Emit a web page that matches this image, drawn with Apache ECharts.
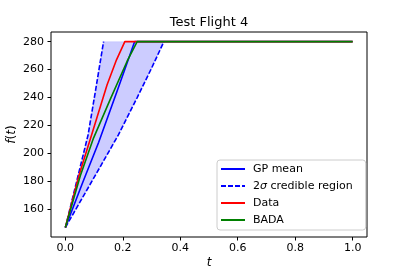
<!DOCTYPE html>
<html>
<head>
<meta charset="utf-8">
<script src="https://cdn.jsdelivr.net/npm/echarts@6/dist/echarts.min.js"></script>
<style>html,body{margin:0;padding:0;background:#fff;}#c{width:407px;height:271px;}</style>
</head>
<body>
<div id="c"></div>
<script>
// Data: [t, f(t)] pairs
const gpMean = [[0,147],[0.06,179],[0.116,208],[0.179,244],[0.241,280],[1.0,280]];
const bandUpper = [[0,147],[0.04,180.5],[0.079,213.2],[0.105,245],[0.133,280]];
const bandLower = [[0,147],[0.06,168.5],[0.12,190],[0.185,213.4],[0.25,240],[0.30,261],[0.343,280]];
const flightData = [[0,147],[0.047,184],[0.088,211],[0.145,249],[0.178,267],[0.207,280],[1.0,280]];
const bada = [[0,147],[0.052,184],[0.098,211],[0.157,239],[0.215,266],[0.25,280],[1.0,280]];
const xTicks = [0,0.2,0.4,0.6,0.8,1.0];
const yTicks = [160,180,200,220,240,260,280];
const seriesNames = ['GP mean','2σ credible region','Data','BADA'];

const FONT = 'DejaVu Sans';
const bandPolygon = bandUpper.concat(bandLower.slice().reverse());

const chart = echarts.init(document.getElementById('c'), null, {renderer:'canvas'});
chart.setOption({
  backgroundColor:'#fff',
  animation:false,
  title:{
    text:'Test Flight 4', left:209, top:16, textAlign:'center', padding:0,
    textStyle:{fontSize:13, fontWeight:'normal', color:'#000', fontFamily:FONT}
  },
  grid:{left:51, right:40, top:32, bottom:34, outerBoundsMode:'none', containLabel:false,
    show:true, borderColor:'#000', borderWidth:1, backgroundColor:'transparent'},
  legend:{
    orient:'vertical', left:217, top:160,
    padding:[2,13,3,3], itemGap:3, itemWidth:24, itemHeight:14,
    backgroundColor:'rgba(255,255,255,0.8)', borderColor:'#cccccc', borderWidth:1, borderRadius:3,
    data:seriesNames,
    itemStyle:{color:'transparent', borderColor:'transparent', borderWidth:0, opacity:0},
    formatter:function(name){ return name.replace('σ','{i|σ}'); },
    textStyle:{fontSize:11, color:'#000', fontFamily:FONT, lineHeight:14, padding:[0,0,0,3],
      rich:{i:{fontStyle:'italic', fontSize:11, fontFamily:FONT, color:'#000'}}}
  },
  xAxis:{
    type:'value', min:-0.05, max:1.05,
    name:'t', nameLocation:'middle', nameGap:20, nameMoveOverlap:false,
    nameTextStyle:{fontStyle:'italic', fontSize:12, color:'#000', fontFamily:FONT},
    axisLine:{show:false, onZero:false},
    splitLine:{show:false},
    axisTick:{show:true, inside:false, length:3.5, customValues:xTicks, lineStyle:{color:'#000', width:1}},
    axisLabel:{customValues:xTicks, margin:6, fontSize:11, color:'#000', fontFamily:FONT,
      formatter:function(v){ return v.toFixed(1); }}
  },
  yAxis:{
    type:'value', min:140.2, max:286.9,
    name:'{i|f}({i|t})', nameLocation:'middle', nameGap:33, nameRotate:90, nameMoveOverlap:false,
    nameTextStyle:{fontSize:12, color:'#000', fontFamily:FONT,
      rich:{i:{fontStyle:'italic', fontSize:12, color:'#000', fontFamily:FONT}}},
    axisLine:{show:false, onZero:false},
    splitLine:{show:false},
    axisTick:{show:true, inside:false, length:3.5, customValues:yTicks, lineStyle:{color:'#000', width:1}},
    axisLabel:{customValues:yTicks, margin:7, fontSize:11, color:'#000', fontFamily:FONT}
  },
  series:[
    {
      type:'custom', silent:true, z:1,
      data:[[0,0]],
      renderItem:function(params, api){
        return {type:'polygon', shape:{points:bandPolygon.map(function(p){return api.coord(p);})},
          style:{fill:'rgba(0,0,255,0.2)', stroke:'rgba(0,0,255,0.2)', lineWidth:0.5}};
      }
    },
    {name:'GP mean', type:'line', data:gpMean, symbol:'none', z:2,
      lineStyle:{color:'#0000ff', width:1.6}, itemStyle:{color:'#0000ff'}},
    {name:'2σ credible region', type:'line', data:bandUpper, symbol:'none', z:2,
      lineStyle:{color:'#0000ff', width:1.6, type:[5,2]}, itemStyle:{color:'#0000ff'}},
    {name:'2σ credible region', type:'line', data:bandLower, symbol:'none', z:2,
      lineStyle:{color:'#0000ff', width:1.6, type:[5,2]}, itemStyle:{color:'#0000ff'}},
    {name:'Data', type:'line', data:flightData, symbol:'none', z:2,
      lineStyle:{color:'#ff0000', width:1.6}, itemStyle:{color:'#ff0000'}},
    {name:'BADA', type:'line', data:bada, symbol:'none', z:2,
      lineStyle:{color:'#008000', width:1.6}, itemStyle:{color:'#008000'}}
  ]
});
</script>
</body>
</html>
